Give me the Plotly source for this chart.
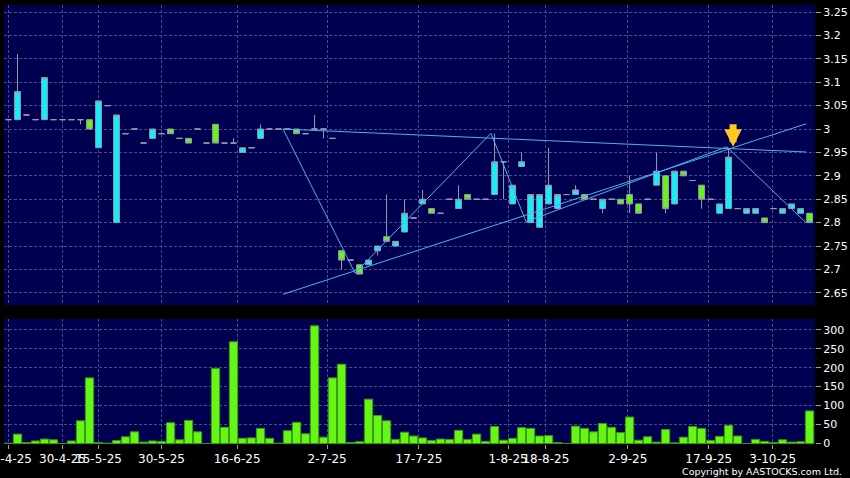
import plotly.graph_objects as go

# ---------------- data ----------------
bar_index = list(range(90))

opens = [3.02, 3.02, 3.03, 3.02, 3.02, 3.02, 3.02, 3.02, 3.02, 3.02,
         2.96, 3.05, 2.80, 2.99, 3.00, 2.97, 2.98, 2.99, 3.00, 2.98,
         2.98, 3.00, 2.97, 3.01, 2.97, 2.97, 2.95, 2.96, 2.98, 3.00,
         3.00, 3.00, 3.00, 2.99, 3.00, 3.00, 2.98, 2.74, 2.72, 2.71,
         2.71, 2.74, 2.77, 2.75, 2.78, 2.81, 2.84, 2.83, 2.82, 2.85,
         2.83, 2.86, 2.85, 2.85, 2.86, 2.93, 2.84, 2.92, 2.80, 2.79,
         2.84, 2.83, 2.86, 2.86, 2.86, 2.85, 2.83, 2.85, 2.85, 2.86,
         2.84, 2.85, 2.88, 2.90, 2.84, 2.91, 2.89, 2.88, 2.85, 2.82,
         2.83, 2.83, 2.82, 2.82, 2.81, 2.83, 2.82, 2.83, 2.82, 2.82]
highs = [3.02, 3.16, 3.03, 3.02, 3.11, 3.02, 3.02, 3.02, 3.02, 3.02,
         3.06, 3.05, 3.03, 2.99, 3.00, 2.97, 3.00, 2.99, 3.00, 2.98,
         2.98, 3.00, 2.97, 3.01, 2.97, 2.98, 2.96, 2.96, 3.01, 3.00,
         3.00, 3.00, 3.00, 2.99, 3.03, 3.00, 2.98, 2.74, 2.72, 2.71,
         2.72, 2.75, 2.86, 2.76, 2.85, 2.81, 2.87, 2.83, 2.82, 2.85,
         2.88, 2.86, 2.85, 2.85, 2.99, 2.93, 2.88, 2.95, 2.86, 2.86,
         2.96, 2.86, 2.86, 2.88, 2.86, 2.85, 2.85, 2.85, 2.85, 2.90,
         2.84, 2.85, 2.95, 2.90, 2.91, 2.91, 2.89, 2.88, 2.85, 2.84,
         2.96, 2.83, 2.83, 2.83, 2.81, 2.83, 2.83, 2.84, 2.83, 2.82]
lows = [3.02, 3.02, 3.03, 3.02, 3.02, 3.02, 3.02, 3.02, 3.01, 3.00,
        2.96, 3.05, 2.80, 2.99, 3.00, 2.97, 2.98, 2.99, 2.99, 2.98,
        2.97, 3.00, 2.97, 2.97, 2.97, 2.97, 2.95, 2.96, 2.98, 3.00,
        3.00, 3.00, 2.99, 2.99, 3.00, 2.98, 2.98, 2.70, 2.72, 2.69,
        2.71, 2.73, 2.76, 2.75, 2.78, 2.81, 2.84, 2.82, 2.82, 2.85,
        2.83, 2.85, 2.85, 2.85, 2.86, 2.85, 2.84, 2.92, 2.80, 2.79,
        2.84, 2.83, 2.86, 2.86, 2.85, 2.85, 2.82, 2.85, 2.84, 2.82,
        2.82, 2.85, 2.88, 2.82, 2.84, 2.90, 2.89, 2.83, 2.85, 2.82,
        2.83, 2.83, 2.82, 2.82, 2.80, 2.83, 2.82, 2.83, 2.82, 2.80]
closes = [3.02, 3.08, 3.03, 3.02, 3.11, 3.02, 3.02, 3.02, 3.02, 3.00,
          3.06, 3.05, 3.03, 2.99, 3.00, 2.97, 3.00, 2.99, 2.99, 2.98,
          2.97, 3.00, 2.97, 2.97, 2.97, 2.97, 2.96, 2.96, 3.00, 3.00,
          3.00, 3.00, 2.99, 2.99, 3.00, 3.00, 2.98, 2.72, 2.72, 2.69,
          2.72, 2.75, 2.76, 2.76, 2.82, 2.81, 2.85, 2.82, 2.82, 2.85,
          2.85, 2.85, 2.85, 2.85, 2.93, 2.93, 2.88, 2.93, 2.86, 2.86,
          2.88, 2.86, 2.86, 2.87, 2.85, 2.85, 2.85, 2.85, 2.84, 2.84,
          2.82, 2.85, 2.91, 2.83, 2.91, 2.90, 2.89, 2.85, 2.85, 2.84,
          2.94, 2.83, 2.83, 2.83, 2.80, 2.83, 2.83, 2.84, 2.83, 2.80]
volumes = [1, 25, 3, 7, 12, 10, 0, 7, 60, 173,
           3, 1, 8, 18, 31, 4, 7, 6, 55, 10,
           61, 31, 0, 198, 43, 268, 14, 15, 40, 14,
           1, 34, 56, 26, 310, 17, 173, 209, 3, 5,
           117, 74, 60, 11, 30, 20, 15, 8, 12, 11,
           35, 11, 25, 6, 45, 9, 14, 42, 40, 20,
           21, 3, 0, 46, 40, 31, 53, 43, 29, 70,
           9, 18, 4, 37, 2, 17, 45, 40, 8, 19,
           48, 20, 0, 11, 6, 3, 10, 4, 5, 86]

date_tick_pos = [0, 6, 10, 17, 25.4, 35.4, 45.6, 55.5, 59.7, 68.8, 77.8, 84.9]
date_tick_labels = ["15-4-25", "30-4-25", "15-5-25", "30-5-25", "16-6-25", "2-7-25",
                    "17-7-25", "1-8-25", "18-8-25", "2-9-25", "17-9-25", "3-10-25"]

price_ticks = [2.65, 2.7, 2.75, 2.8, 2.85, 2.9, 2.95, 3.0, 3.05, 3.1, 3.15, 3.2, 3.25]
volume_ticks = [0, 50, 100, 150, 200, 250, 300]

# drawn trend lines (bar index, price)
channel_low_x = [30.5, 88.6]
channel_low_y = [2.647, 3.011]
channel_top_x = [30.5, 88.6]
channel_top_y = [3.0, 2.951]
zigzag_x = [30.5, 38.5, 53.6, 57.5, 79.8, 88.6]
zigzag_y = [3.0, 2.692, 2.991, 2.802, 2.962, 2.80]

signal_bar = 80

# ---------------- styles ----------------
NAVY = "#000050"
GRID = "#4b4b86"
CYAN = "#10f0f8"
GREEN = "#66f514"
OUTLINE = "#9a9ab0"
TREND = "#4fb0ec"
FONT = "DejaVu Sans"
X_RANGE = [-0.5, 89.6]

fig = go.Figure()

fig.add_trace(go.Candlestick(
    x=bar_index, open=opens, high=highs, low=lows, close=closes,
    increasing=dict(fillcolor=CYAN, line=dict(color=OUTLINE, width=1)),
    decreasing=dict(fillcolor=GREEN, line=dict(color=OUTLINE, width=1)),
    whiskerwidth=0, showlegend=False, hoverinfo="skip",
    xaxis="x", yaxis="y"))

for xs, ys in [(channel_low_x, channel_low_y), (channel_top_x, channel_top_y), (zigzag_x, zigzag_y)]:
    fig.add_trace(go.Scatter(x=xs, y=ys, mode="lines", line=dict(color=TREND, width=1),
                             showlegend=False, hoverinfo="skip", xaxis="x", yaxis="y"))

fig.add_trace(go.Bar(
    x=bar_index, y=volumes, marker=dict(color=GREEN, line=dict(color="#3c9a10", width=1)),
    showlegend=False, hoverinfo="skip", xaxis="x2", yaxis="y2"))

fig.add_annotation(
    x=signal_bar + 0.5, y=highs[signal_bar] + 0.002, xref="x", yref="y",
    ax=0, ay=-24, showarrow=True, arrowhead=2, arrowsize=0.5, arrowwidth=7,
    arrowcolor="#ffc81e", text="", standoff=0)

fig.add_annotation(
    text="Copyright by AASTOCKS.com Ltd.", xref="paper", yref="paper",
    x=(844 - 4) / 811, y=(444 - 471) / 439, xanchor="right", yanchor="middle",
    showarrow=False, font=dict(family=FONT, size=9.5, color="white"))

axis_common = dict(showgrid=True, gridcolor=GRID, griddash="3px,2px", gridwidth=1,
                   zeroline=False, showline=False, automargin=False)

fig.update_layout(
    width=850, height=478,
    margin=dict(l=4, r=35, t=5, b=34, autoexpand=False),
    paper_bgcolor="black", plot_bgcolor=NAVY,
    boxgap=0.08, bargap=0.08,
    font=dict(family=FONT, size=11, color="white"),
    xaxis=dict(domain=[0, 1], range=X_RANGE, autorange=False, anchor="y",
               tickvals=date_tick_pos, showticklabels=False, ticks="",
               rangeslider=dict(visible=False), **axis_common),
    yaxis=dict(domain=[0.3166, 1], range=[2.624, 3.265], side="right", anchor="x",
               tickvals=price_ticks, ticktext=[f"{v:g}" for v in price_ticks],
               ticks="outside", ticklen=5, tickcolor="#a0a0a0",
               tickfont=dict(family=FONT, size=11, color="white"), **axis_common),
    xaxis2=dict(domain=[0, 1], range=X_RANGE, autorange=False, anchor="y2",
                tickvals=date_tick_pos, ticktext=date_tick_labels, tickangle=0,
                ticklabeloverflow="allow",
                ticks="outside", ticklen=4, tickcolor="#a0a0a0",
                tickfont=dict(family=FONT, size=12, color="white"), **axis_common),
    yaxis2=dict(domain=[0, 0.2847], range=[-1, 328], side="right", anchor="x2",
                tickvals=volume_ticks, ticktext=[str(v) for v in volume_ticks],
                ticks="outside", ticklen=5, tickcolor="#a0a0a0",
                tickfont=dict(family=FONT, size=11, color="white"), **axis_common),
)

fig.write_html("out.html", config={"displayModeBar": False},
               post_script="document.body.style.margin='0';document.body.style.overflow='hidden';")
